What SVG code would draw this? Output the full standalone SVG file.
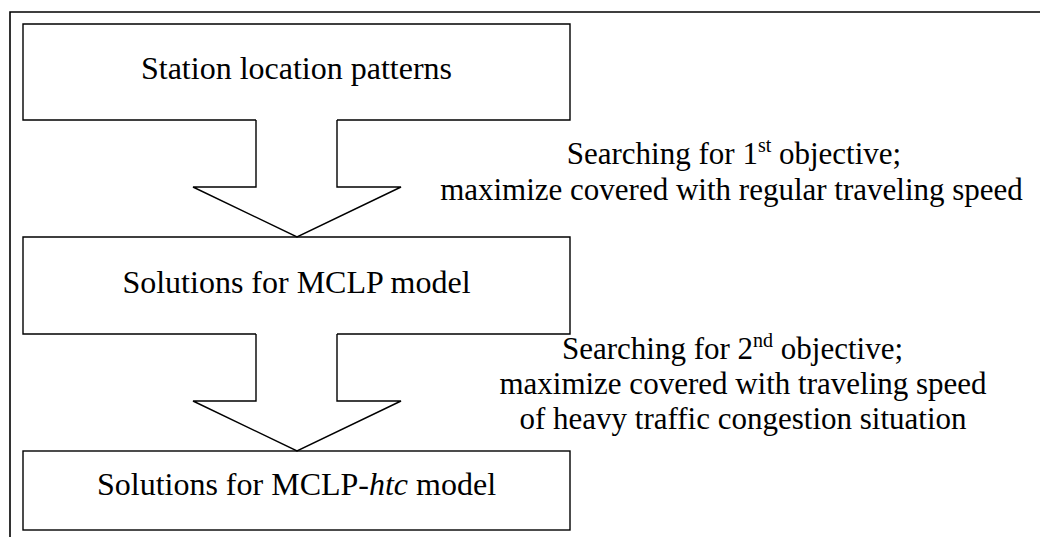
<svg xmlns="http://www.w3.org/2000/svg" width="1040" height="537" viewBox="0 0 1040 537">
<style>
.frame{fill:none;stroke:#000;stroke-width:1.6}
.box{fill:#fff;stroke:#000;stroke-width:1.4}
.arrow{fill:#fff;stroke:#000;stroke-width:1.4;stroke-linejoin:miter}
text{font-family:"Liberation Serif","Times New Roman",serif;font-size:32px;fill:#000}
.c{text-anchor:middle}
.lbl{font-size:31px}
</style>
<rect width="1040" height="537" fill="#fff"/>
<path class="frame" d="M10,537 V12 H1040"/>
<g id="node-station">
<path class="box" d="M256,120 H23 V24 H570 V120 H337"/>
<text class="c" x="296.5" y="79">Station location patterns</text>
</g>
<g id="node-mclp">
<path class="box" d="M256,334 H23 V237 H570 V334 H337"/>
<text class="c" x="296.5" y="293">Solutions for MCLP model</text>
</g>
<g id="node-mclp-htc">
<rect class="box" x="23" y="451" width="547" height="79"/>
<text class="c" x="296.5" y="495">Solutions for MCLP-<tspan font-style="italic">htc</tspan> model</text>
</g>
<g id="connectors">
<path class="arrow" d="M256,120 V187 H193 L297,237 L401,187 H337 V120"/>
<path class="arrow" d="M256,334 V401 H193 L297,451 L401,401 H337 V334"/>
</g>
<g id="label-1">
<text class="c lbl" x="734" y="164">Searching for 1<tspan font-size="20" dy="-12">st</tspan><tspan dy="12"> objective;</tspan></text>
<text class="c lbl" x="731.5" y="200">maximize covered with regular traveling speed</text>
</g>
<g id="label-2">
<text class="c lbl" x="732.5" y="359">Searching for 2<tspan font-size="20" dy="-12">nd</tspan><tspan dy="12"> objective;</tspan></text>
<text class="c lbl" x="743" y="394">maximize covered with traveling speed</text>
<text class="c lbl" x="743" y="429">of heavy traffic congestion situation</text>
</g>
</svg>
